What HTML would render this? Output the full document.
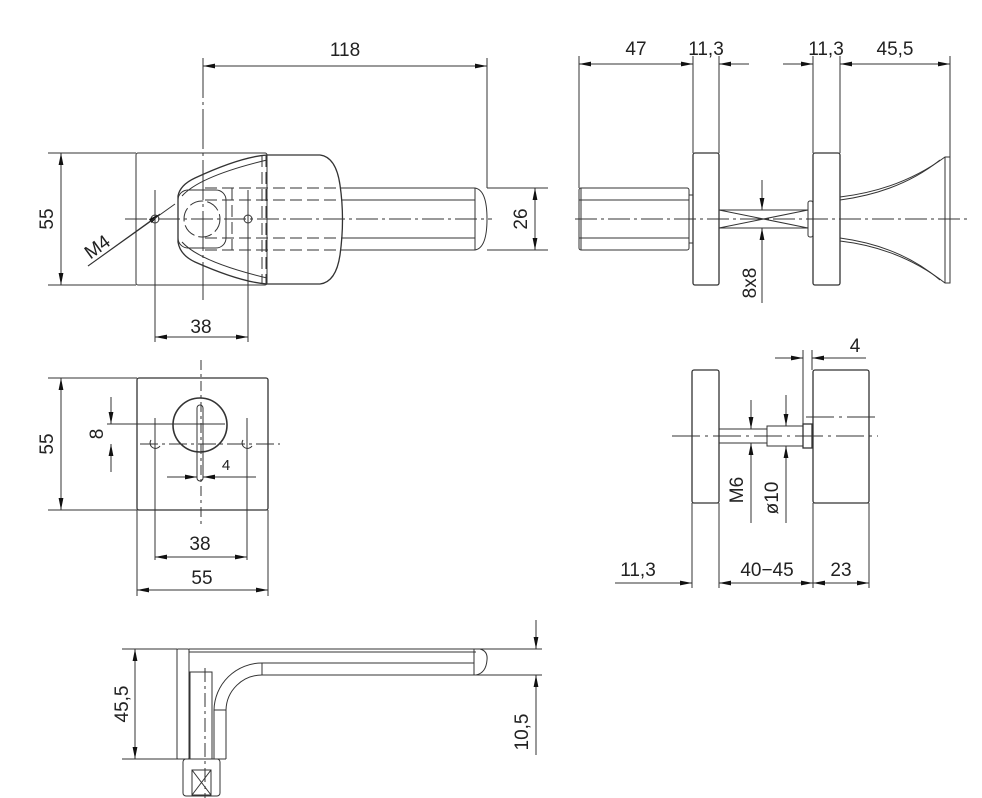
<!DOCTYPE html>
<html><head><meta charset="utf-8"><style>
html,body{margin:0;padding:0;background:#fff;}
svg{display:block;}
text{font-family:"Liberation Sans",sans-serif;font-size:19px;fill:#222;}
</style></head><body>
<svg width="982" height="798" viewBox="0 0 982 798" xmlns="http://www.w3.org/2000/svg">
<defs>
<marker id="a" viewBox="0 0 12 6" refX="12" refY="3" markerWidth="12" markerHeight="6" markerUnits="userSpaceOnUse" orient="auto-start-reverse"><path d="M0,0.6 L12,3 L0,5.4z" fill="#111"/></marker>
</defs>
<g fill="none" stroke="#333" stroke-width="1">
<!-- ===== Top-left view ===== -->
<rect x="136" y="153" width="131" height="132" rx="2"/>
<line x1="48" y1="153" x2="136" y2="153"/><line x1="48" y1="285" x2="136" y2="285"/>
<line x1="61" y1="153" x2="61" y2="285" marker-start="url(#a)" marker-end="url(#a)"/>
<!-- lever -->
<path d="M178,196 Q180,185 195,178 Q240,157 267,155 L320,155 Q336,157 340,185 Q345,219 340,255 Q336,282 320,284 L267,284 Q240,282 195,262 Q180,255 178,242 Z" stroke-width="1.3"/>
<path d="M182,196 Q200,176 267,160 M182,242 Q200,262 267,278" />
<rect x="178" y="190" width="48" height="58" rx="10"/>
<circle cx="202" cy="219" r="18" stroke-dasharray="14 4"/>
<g stroke-dasharray="12 5"><line x1="205" y1="188" x2="343" y2="188"/><line x1="205" y1="200" x2="343" y2="200"/><line x1="205" y1="238" x2="343" y2="238"/><line x1="205" y1="250" x2="343" y2="250"/><line x1="266" y1="155" x2="266" y2="284"/><line x1="262" y1="155" x2="262" y2="284"/><line x1="232" y1="188" x2="232" y2="250"/></g>
<path d="M343,188 L475,188 Q487,190 487,219 Q487,248 475,250 L343,250"/>
<line x1="475" y1="188" x2="475" y2="250"/>
<line x1="343" y1="200" x2="475" y2="200"/><line x1="343" y1="238" x2="475" y2="238"/>
<line x1="125" y1="219" x2="492" y2="219" stroke-dasharray="22 4 3 4"/>
<circle cx="155" cy="219" r="4"/><circle cx="248" cy="219" r="4"/>
<line x1="203" y1="58" x2="203" y2="300" stroke-dasharray="40 4 3 4"/>
<line x1="487" y1="58" x2="487" y2="188"/>
<line x1="203" y1="66" x2="487" y2="66" marker-start="url(#a)" marker-end="url(#a)"/>
<line x1="487" y1="188" x2="548" y2="188"/><line x1="487" y1="250" x2="548" y2="250"/>
<line x1="535" y1="188" x2="535" y2="250" marker-start="url(#a)" marker-end="url(#a)"/>
<line x1="155" y1="190" x2="155" y2="342"/><line x1="248" y1="190" x2="248" y2="342"/>
<line x1="155" y1="337" x2="248" y2="337" marker-start="url(#a)" marker-end="url(#a)"/>
<line x1="88" y1="266" x2="160" y2="214" marker-end="url(#a)"/>
<line x1="88" y1="266" x2="175" y2="204"/>
<!-- ===== Top-right side view ===== -->
<line x1="579" y1="56" x2="579" y2="188"/><line x1="693" y1="56" x2="693" y2="153"/><line x1="719" y1="56" x2="719" y2="153"/>
<line x1="813" y1="56" x2="813" y2="153"/><line x1="840" y1="56" x2="840" y2="153"/><line x1="950" y1="56" x2="950" y2="157"/>
<line x1="579" y1="64" x2="693" y2="64" marker-start="url(#a)" marker-end="url(#a)"/>
<line x1="749" y1="64" x2="719" y2="64" marker-end="url(#a)"/>
<line x1="783" y1="64" x2="813" y2="64" marker-end="url(#a)"/>
<line x1="840" y1="64" x2="950" y2="64" marker-start="url(#a)" marker-end="url(#a)"/>
<rect x="693" y="153" width="26" height="132" rx="2" stroke-width="1.3"/>
<rect x="813" y="153" width="27" height="132" rx="2" stroke-width="1.3"/>
<rect x="579" y="188" width="110" height="62" rx="2"/>
<line x1="581" y1="188" x2="581" y2="250"/>
<line x1="579" y1="200" x2="689" y2="200"/><line x1="579" y1="238" x2="689" y2="238"/>
<rect x="689" y="195" width="4" height="48"/>
<rect x="719" y="210" width="89" height="18"/>
<path d="M719,210 L808,228 M719,228 L808,210"/>
<rect x="808" y="201" width="5" height="36" rx="2"/>
<path d="M840,197 Q900,190 945,157 L950,157 L950,283 L945,283 Q900,248 840,241"/>
<path d="M840,200 Q900,192 940,160 M840,238 Q900,246 940,280"/>
<line x1="945" y1="157" x2="945" y2="283"/>
<line x1="575" y1="219" x2="968" y2="219" stroke-dasharray="22 4 3 4"/>
<line x1="762" y1="180" x2="762" y2="210" marker-end="url(#a)"/>
<line x1="762" y1="303" x2="762" y2="228" marker-end="url(#a)"/>
<!-- ===== Middle-left view ===== -->
<rect x="137" y="378" width="131" height="132" rx="2" stroke-width="1.3"/>
<line x1="48" y1="378" x2="137" y2="378"/><line x1="48" y1="510" x2="137" y2="510"/>
<line x1="61" y1="378" x2="61" y2="510" marker-start="url(#a)" marker-end="url(#a)"/>
<circle cx="200" cy="425" r="27" stroke-width="1.6"/>
<rect x="197" y="405" width="6" height="76" rx="3"/>
<line x1="201" y1="360" x2="201" y2="526" stroke-dasharray="10 4 3 4"/>
<path d="M151,440 A5,5 0 1,0 160,446"/><path d="M243,440 A5,5 0 1,0 252,446"/>
<line x1="140" y1="444" x2="280" y2="444" stroke-dasharray="18 4 3 4"/>
<line x1="107" y1="424" x2="225" y2="424"/>
<line x1="155" y1="418" x2="155" y2="560"/><line x1="247" y1="418" x2="247" y2="560"/>
<line x1="111" y1="397" x2="111" y2="424" marker-end="url(#a)"/>
<line x1="111" y1="472" x2="111" y2="444" marker-end="url(#a)"/>
<line x1="167" y1="477" x2="197" y2="477" marker-end="url(#a)"/>
<line x1="256" y1="477" x2="203" y2="477" marker-end="url(#a)"/>
<line x1="155" y1="557" x2="247" y2="557" marker-start="url(#a)" marker-end="url(#a)"/>
<line x1="137" y1="510" x2="137" y2="596"/><line x1="268" y1="510" x2="268" y2="596"/>
<line x1="137" y1="590" x2="268" y2="590" marker-start="url(#a)" marker-end="url(#a)"/>
<!-- ===== Middle-right view ===== -->
<rect x="692" y="370" width="27" height="133" rx="2" stroke-width="1.3"/>
<rect x="813" y="370" width="56" height="133" rx="2" stroke-width="1.3"/>
<line x1="692" y1="503" x2="692" y2="588"/><line x1="719" y1="503" x2="719" y2="588"/>
<line x1="813" y1="503" x2="813" y2="588"/><line x1="869" y1="503" x2="869" y2="588"/>
<line x1="615" y1="583" x2="692" y2="583" marker-end="url(#a)"/>
<line x1="719" y1="583" x2="813" y2="583" marker-start="url(#a)" marker-end="url(#a)"/>
<line x1="813" y1="583" x2="869" y2="583" marker-start="url(#a)" marker-end="url(#a)"/>
<line x1="672" y1="436" x2="878" y2="436" stroke-dasharray="28 5 3 5"/>
<line x1="806" y1="417" x2="878" y2="417" stroke-dasharray="28 5 3 5"/>
<rect x="719" y="429" width="48" height="14"/>
<rect x="767" y="426" width="36" height="20"/>
<rect x="803" y="424" width="9" height="24" stroke-width="1.3"/>
<line x1="751" y1="400" x2="751" y2="429" marker-end="url(#a)"/>
<line x1="751" y1="523" x2="751" y2="443" marker-end="url(#a)"/>
<line x1="786" y1="395" x2="786" y2="426" marker-end="url(#a)"/>
<line x1="786" y1="523" x2="786" y2="446" marker-end="url(#a)"/>
<line x1="803" y1="350" x2="803" y2="424"/><line x1="812" y1="350" x2="812" y2="370"/>
<line x1="775" y1="358" x2="803" y2="358" marker-end="url(#a)"/>
<line x1="866" y1="358" x2="812" y2="358" marker-end="url(#a)"/>
<!-- ===== Bottom view ===== -->
<rect x="177" y="649" width="12" height="110" rx="1"/>
<line x1="189" y1="649" x2="487" y2="649"/>
<line x1="189" y1="652" x2="476" y2="652"/>
<path d="M226,759 L226,710 A36,36 0 0,1 262,675 L487,675 M214,759 L214,710 A48,48 0 0,1 262,663 L474,663"/>
<line x1="262" y1="663" x2="262" y2="675"/>
<path d="M474,649 L480,649 Q488,651 487,660 Q486,673 476,675"/>
<line x1="474" y1="649" x2="474" y2="675"/>
<line x1="214" y1="710" x2="226" y2="710"/>
<line x1="177" y1="759" x2="226" y2="759"/>
<rect x="190" y="672" width="22" height="87"/>
<line x1="205" y1="668" x2="205" y2="798" stroke-dasharray="14 4 3 4"/>
<rect x="183" y="759" width="37" height="37" rx="3"/>
<rect x="192" y="770" width="19" height="25"/>
<path d="M192,770 L211,795 M211,770 L192,795"/>
<line x1="122" y1="649" x2="177" y2="649"/><line x1="122" y1="759" x2="177" y2="759"/>
<line x1="135" y1="649" x2="135" y2="759" marker-start="url(#a)" marker-end="url(#a)"/>
<line x1="487" y1="649" x2="542" y2="649"/><line x1="487" y1="675" x2="542" y2="675"/>
<line x1="536" y1="620" x2="536" y2="649" marker-end="url(#a)"/>
<line x1="536" y1="755" x2="536" y2="675" marker-end="url(#a)"/>
</g>
<!-- texts -->
<text x="345" y="56" text-anchor="middle">118</text>
<text transform="translate(53,219) rotate(-90)" text-anchor="middle">55</text>
<text transform="translate(527,219) rotate(-90)" text-anchor="middle">26</text>
<text transform="translate(101,252) rotate(-36)" text-anchor="middle">M4</text>
<text x="201" y="333" text-anchor="middle">38</text>
<text x="636" y="55" text-anchor="middle">47</text>
<text x="706" y="55" text-anchor="middle">11,3</text>
<text x="826" y="55" text-anchor="middle">11,3</text>
<text x="895" y="55" text-anchor="middle">45,5</text>
<text transform="translate(756,283) rotate(-90)" text-anchor="middle">8x8</text>
<text transform="translate(53,444) rotate(-90)" text-anchor="middle">55</text>
<text transform="translate(103,434) rotate(-90)" text-anchor="middle">8</text>
<text x="226" y="470" text-anchor="middle" style="font-size:15px">4</text>
<text x="200" y="550" text-anchor="middle">38</text>
<text x="202" y="584" text-anchor="middle">55</text>
<text x="855" y="352" text-anchor="middle">4</text>
<text transform="translate(743,490) rotate(-90)" text-anchor="middle">M6</text>
<text transform="translate(778,498) rotate(-90)" text-anchor="middle">ø10</text>
<text x="638" y="576" text-anchor="middle">11,3</text>
<text x="767" y="576" text-anchor="middle">40−45</text>
<text x="841" y="576" text-anchor="middle">23</text>
<text transform="translate(128,704) rotate(-90)" text-anchor="middle">45,5</text>
<text transform="translate(528,732) rotate(-90)" text-anchor="middle">10,5</text>
</svg>
</body></html>
